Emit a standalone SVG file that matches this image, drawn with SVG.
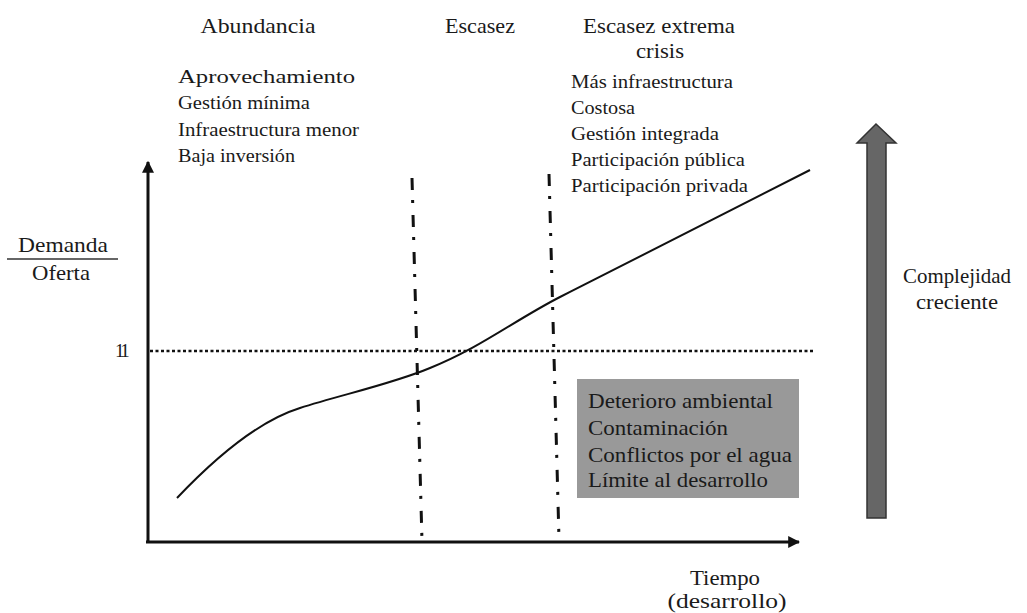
<svg xmlns="http://www.w3.org/2000/svg" width="1027" height="613" viewBox="0 0 1027 613">
<style>
text{font-family:"Liberation Serif","DejaVu Serif",serif;fill:#1a1a1a}
.h{font-size:21px}
.l{font-size:19px}
.b{font-size:21px}
.axis{stroke:#111;stroke-width:3;fill:none}
.dd{stroke:#111;stroke-width:3;fill:none;stroke-dasharray:12 10 3 12}
</style>
<defs>
<marker id="ah" viewBox="0 0 10 10" refX="9" refY="5" markerWidth="4" markerHeight="4" orient="auto" markerUnits="strokeWidth">
<path d="M0,0 L10,5 L0,10 z" fill="#111"/>
</marker>
</defs>
<rect width="1027" height="613" fill="#fff"/>

<g id="connectors">
<line class="axis" x1="148" y1="543" x2="148" y2="162" marker-end="url(#ah)"/>
<line class="axis" x1="146" y1="542" x2="799" y2="542" marker-end="url(#ah)"/>
<line x1="150" y1="351" x2="815" y2="351" stroke="#111" stroke-width="2.5" stroke-dasharray="3 2.5"/>
<line class="dd" x1="412" y1="178" x2="422" y2="541"/>
<line class="dd" x1="549" y1="174" x2="559" y2="539"/>
<path d="M177,498 C215,458 258,421 300,408 C340,395 392,384 430,368 C480,348 515,320 560,297 C650,252 740,205 810,170" fill="none" stroke="#111" stroke-width="2"/>
</g>

<g id="headers">
<text class="h" x="258" y="33" text-anchor="middle" textLength="115" lengthAdjust="spacingAndGlyphs">Abundancia</text>
<text class="h" x="480" y="33" text-anchor="middle" textLength="70" lengthAdjust="spacingAndGlyphs">Escasez</text>
<text class="h" x="659" y="33" text-anchor="middle" textLength="152" lengthAdjust="spacingAndGlyphs">Escasez extrema</text>
<text class="h" x="660" y="58" text-anchor="middle" textLength="48" lengthAdjust="spacingAndGlyphs">crisis</text>
</g>

<g id="abundancia-list">
<text class="l" x="178" y="83" textLength="177" lengthAdjust="spacingAndGlyphs">Aprovechamiento</text>
<text class="l" x="178" y="109" textLength="132" lengthAdjust="spacingAndGlyphs">Gestión mínima</text>
<text class="l" x="178" y="136" textLength="181" lengthAdjust="spacingAndGlyphs">Infraestructura menor</text>
<text class="l" x="178" y="162" textLength="117" lengthAdjust="spacingAndGlyphs">Baja inversión</text>
</g>

<g id="crisis-list">
<text class="l" x="571" y="88" textLength="162" lengthAdjust="spacingAndGlyphs">Más infraestructura</text>
<text class="l" x="571" y="114" textLength="64" lengthAdjust="spacingAndGlyphs">Costosa</text>
<text class="l" x="571" y="140" textLength="148" lengthAdjust="spacingAndGlyphs">Gestión integrada</text>
<text class="l" x="571" y="166" textLength="174" lengthAdjust="spacingAndGlyphs">Participación pública</text>
<text class="l" x="571" y="192" textLength="177" lengthAdjust="spacingAndGlyphs">Participación privada</text>
</g>

<g id="y-label">
<text class="h" x="63" y="252" text-anchor="middle" textLength="90" lengthAdjust="spacingAndGlyphs">Demanda</text>
<line x1="7" y1="259" x2="118" y2="259" stroke="#333" stroke-width="1.5"/>
<text class="h" x="61" y="280" text-anchor="middle" textLength="58" lengthAdjust="spacingAndGlyphs">Oferta</text>
<text class="l" x="115" y="357" font-size="19" letter-spacing="-3.5">11</text>
</g>

<g id="x-label">
<text class="h" x="725" y="585" text-anchor="middle" textLength="70" lengthAdjust="spacingAndGlyphs">Tiempo</text>
<text class="h" x="727" y="608" text-anchor="middle" textLength="119" lengthAdjust="spacingAndGlyphs">(desarrollo)</text>
</g>

<g id="impact-box">
<rect x="577" y="379" width="222" height="119" fill="#999"/>
<text class="b" x="588" y="408" textLength="185" lengthAdjust="spacingAndGlyphs">Deterioro ambiental</text>
<text class="b" x="588" y="435" textLength="140" lengthAdjust="spacingAndGlyphs">Contaminación</text>
<text class="b" x="588" y="462" textLength="204" lengthAdjust="spacingAndGlyphs">Conflictos por el agua</text>
<text class="b" x="588" y="487" textLength="180" lengthAdjust="spacingAndGlyphs">Límite al desarrollo</text>
</g>

<g id="complexity-arrow">
<path d="M867,518 L867,143 L857,143 L876,124 L896,143 L886,143 L886,518 Z" fill="#666" stroke="#333" stroke-width="1.5"/>
<text class="h" x="957" y="283" text-anchor="middle" textLength="108" lengthAdjust="spacingAndGlyphs">Complejidad</text>
<text class="h" x="957" y="309" text-anchor="middle" textLength="82" lengthAdjust="spacingAndGlyphs">creciente</text>
</g>
</svg>
